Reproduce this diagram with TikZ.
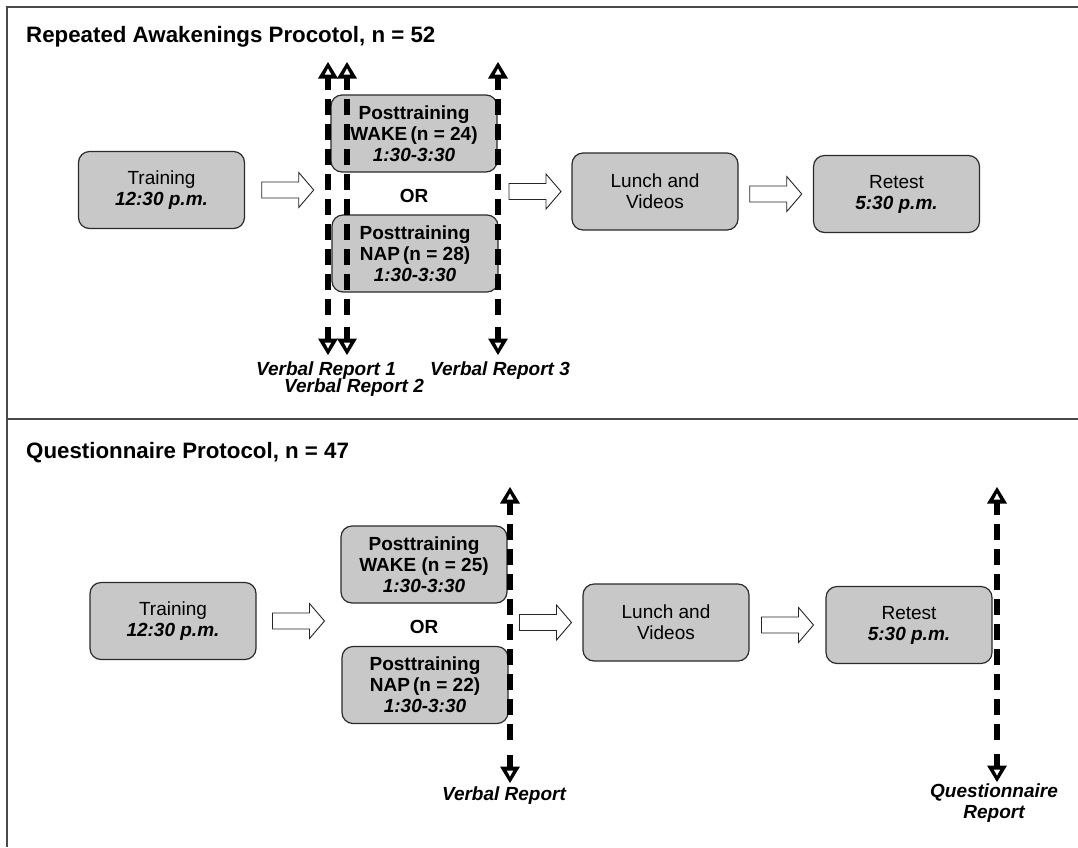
\documentclass[tikz,border=0pt]{standalone}
\usepackage{fontspec}
\setmainfont{Liberation Sans}
\usetikzlibrary{calc}
\definecolor{boxfill}{HTML}{C8C8C8}
\definecolor{boxline}{HTML}{2B2B2B}
\definecolor{frameline}{HTML}{4A4A4A}
\tikzset{
  stagebox/.style={draw=boxline, line width=1.2pt, fill=boxfill, rounded corners=11pt,
    minimum width=166pt, minimum height=77pt, align=center, inner sep=2pt,
    font=\fontsize{19}{21}\selectfont},
  orlabel/.style={font=\fontsize{19}{21}\selectfont\bfseries},
  replabel/.style={font=\fontsize{19}{21}\selectfont\bfseries\itshape, align=center, inner sep=0pt},
  paneltitle/.style={font=\fontsize{22.3}{26}\selectfont\bfseries, anchor=base west, inner sep=0pt},
  repline/.style={line width=6pt, dash pattern=on 16pt off 9pt, dash phase=4pt},
  repstub/.style={line width=6pt},
  headup/.pic={\fill[black, line join=miter] (0,0) -- (-10pt,-16.5pt) -- (10pt,-16.5pt) -- cycle;
     \fill[white] (0,-6.5pt) -- (-3.2pt,-12.5pt) -- (3.2pt,-12.5pt) -- cycle;},
  headdown/.pic={\fill[black, line join=miter] (0,0) -- (-10pt,16.5pt) -- (10pt,16.5pt) -- cycle;
     \fill[white] (0,6.5pt) -- (-3.2pt,12.5pt) -- (3.2pt,12.5pt) -- cycle;},
  blockarr/.pic={\draw[fill=white, draw=black!85, line width=0.9pt, line join=miter]
     (-26pt,-8pt) -- (11pt,-8pt) -- (11pt,-17.5pt) -- (26pt,0pt) -- (11pt,17.5pt) -- (11pt,8pt) -- (-26pt,8pt) -- cycle;}
}
% vertical report connector between a top and a bottom coordinate
% (dashed run of 12 + 9 x 25 pt below the upper head, solid stub above the lower head)
\newcommand{\reportconn}[2]{%
  \draw[repline] ($(#1)+(0,-16pt)$) -- ($(#1)+(0,-253pt)$);
  \draw[repstub] ($(#2)+(0,16pt)$) -- ($(#2)+(0,28pt)$);
  \pic at (#1) {headup};
  \pic at (#2) {headdown};
}
\begin{document}
\begin{tikzpicture}[x=1pt,y=-1pt]
\useasboundingbox[fill=white] (0,0) rectangle (1078,847);
% frame
\coordinate (ftl) at (7,7);
\coordinate (ftr) at (1078,7);
\coordinate (fbl) at (7,847);
\coordinate (fml) at (7,419);
\coordinate (fmr) at (1078,419);
\draw[frameline, line width=1.5pt] (ftr) -- (ftl) -- (fbl);
\draw[frameline, line width=1.5pt] (fml) -- (fmr);

% ---------- top panel ----------
\node[paneltitle] (t1) at (26,42) {Repeated Awakenings Procotol, n = 52};

\node[stagebox] (train1) at (161.5,190) {Training\\\textbf{\textit{12:30 p.m.}}};
\node[stagebox] (wake1) at (414,133.5) {\textbf{Posttraining}\\\textbf{WAKE\,(n = 24)}\\\textbf{\textit{1:30-3:30}}};
\node[orlabel] (or1) at (414,196) {OR};
\node[stagebox] (nap1) at (415,253.5) {\textbf{Posttraining}\\\textbf{NAP\,(n = 28)}\\\textbf{\textit{1:30-3:30}}};
\node[stagebox] (lunch1) at (655,191.5) {Lunch and\\Videos};
\node[stagebox] (retest1) at (896.5,194) {Retest\\\textbf{\textit{5:30 p.m.}}};

\pic at ($(train1.east)!0.5!(wake1.west |- train1.east)$) {blockarr};
\pic at ($(nap1.east |- lunch1.west)!0.5!(lunch1.west)$) {blockarr};
\pic at ($(lunch1.east |- retest1.west)!0.5!(retest1.west)$) {blockarr};

\coordinate (r1t) at (328,62);  \coordinate (r1b) at (328,355);
\coordinate (r2t) at (347,62);  \coordinate (r2b) at (347,355);
\coordinate (r3t) at (498,62);  \coordinate (r3b) at (498,355);
\reportconn{r1t}{r1b}
\reportconn{r2t}{r2b}
\reportconn{r3t}{r3b}

\node[replabel, anchor=base] (vr1) at (326,375) {Verbal Report 1};
\node[replabel, anchor=base] (vr2) at (354,392) {Verbal Report 2};
\node[replabel, anchor=base] (vr3) at (500,375) {Verbal Report 3};

% ---------- bottom panel ----------
\node[paneltitle] (t2) at (26,458) {Questionnaire Protocol, n = 47};

\node[stagebox] (train2) at (173,621) {Training\\\textbf{\textit{12:30 p.m.}}};
\node[stagebox] (wake2) at (424,564.5) {\textbf{Posttraining}\\\textbf{WAKE (n = 25)}\\\textbf{\textit{1:30-3:30}}};
\node[orlabel] (or2) at (424,627) {OR};
\node[stagebox] (nap2) at (425,685) {\textbf{Posttraining}\\\textbf{NAP\,(n = 22)}\\\textbf{\textit{1:30-3:30}}};
\node[stagebox] (lunch2) at (666,622.5) {Lunch and\\Videos};
\node[stagebox] (retest2) at (909,625) {Retest\\\textbf{\textit{5:30 p.m.}}};

\pic at ($(train2.east)!0.5!(wake2.west |- train2.east)$) {blockarr};
\pic at ($(nap2.east |- lunch2.west)!0.5!(lunch2.west)$) {blockarr};
\pic at ($(lunch2.east |- retest2.west)!0.5!(retest2.west)$) {blockarr};

\coordinate (q1t) at (510,487); \coordinate (q1b) at (510,783);
\coordinate (q2t) at (997,487); \coordinate (q2b) at (997,782);
\reportconn{q1t}{q1b}
\reportconn{q2t}{q2b}

\node[replabel, anchor=base] (vr4) at (504,800) {Verbal Report};
\node[replabel, anchor=base] (qr) at (994,818) {Questionnaire\\Report};
\end{tikzpicture}
\end{document}
